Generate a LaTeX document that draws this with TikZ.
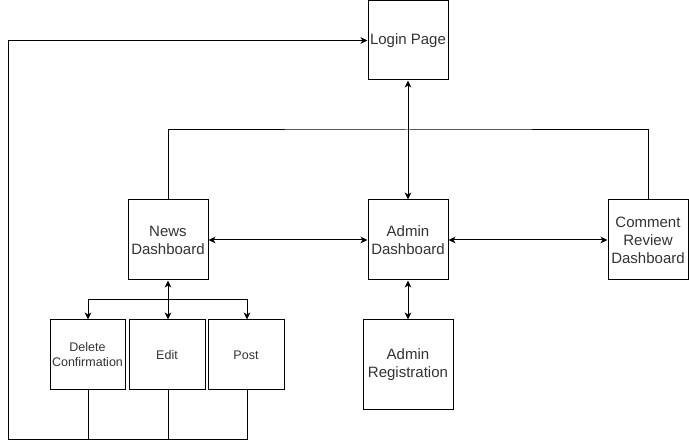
\documentclass[tikz,border=0pt]{standalone}
\usepackage{fontspec}
\setmainfont{Liberation Sans}
\usetikzlibrary{arrows.meta}
\definecolor{txt}{HTML}{333333}
\begin{document}
\begin{tikzpicture}[x=1pt,y=-1pt,
  box/.style={draw=black,line width=1pt,fill=white,inner sep=0pt,align=center,text=txt,
    font=\fontsize{15}{18}\selectfont},
  smallbox/.style={box,font=\fontsize{12.5}{15}\selectfont},
  conn/.style={line width=1pt,draw=black},
  tip/.style={conn,-{Stealth[length=7pt,width=6.5pt,inset=2pt]}},
  tips/.style={conn,{Stealth[length=7pt,width=6.5pt,inset=2pt]}-{Stealth[length=7pt,width=6.5pt,inset=2pt]}}]
\useasboundingbox (0,0) rectangle (689,443);
\node[box,minimum width=80pt,minimum height=79pt] (login) at (408,40.5) {Login Page};
\node[box,minimum width=80pt,minimum height=80pt] (news) at (168,240) {News\\Dashboard};
\node[box,minimum width=80pt,minimum height=80pt] (admin) at (408,240) {Admin\\Dashboard};
\node[box,minimum width=80pt,minimum height=80pt] (comment) at (648,240) {Comment\\Review\\Dashboard};
\node[box,minimum width=90pt,minimum height=90pt] (reg) at (408,365) {Admin\\Registration};
\node[smallbox,minimum width=75pt,minimum height=70pt] (del) at (87.5,355) {Delete\\Confirmation};
\node[smallbox,minimum width=76pt,minimum height=70pt] (edit) at (167,355) {Edit};
\node[smallbox,minimum width=76pt,minimum height=70pt] (post) at (246,355) {Post};
\coordinate (topbar) at (408,130);
\coordinate (fork) at (168,300);
\coordinate (bl) at (8,440);
\draw[tips] (login.south) -- (admin.north);
\draw[conn] (news.north) |- (topbar) -| (comment.north);
\draw[tips] (news.east) -- (admin.west);
\draw[tips] (admin.east) -- (comment.west);
\draw[tips] (admin.south) -- (reg.north);
\draw[tips] (news.south) -- (news.south |- edit.north);
\draw[tip] (fork) -| ([xshift=0.5pt]del.north);
\draw[tip] (fork) -| ([xshift=1pt]post.north);
\draw[conn] ([xshift=0.5pt]del.south) -- ([xshift=0.5pt]del.south |- bl);
\draw[conn] ([xshift=1pt]edit.south) -- ([xshift=1pt]edit.south |- bl);
\draw[tip] ([xshift=1pt]post.south) |- (bl) |- (login.west);
\end{tikzpicture}
\end{document}
